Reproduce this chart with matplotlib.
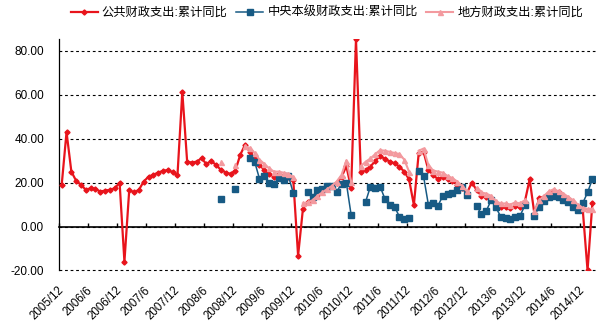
import numpy as np
import pandas as pd
import matplotlib
matplotlib.use('Agg')
import matplotlib.pyplot as plt
from matplotlib.transforms import ScaledTranslation

plt.rcParams['font.family'] = ['Liberation Sans', 'Noto Sans CJK SC']

# monthly categories, 2005/12 .. 2015/2
months = pd.period_range('2005-12', periods=111, freq='M')
month_labels = [f'{p.year}/{p.month}' for p in months]

series_names = ['公共财政支出:累计同比', '中央本级财政支出:累计同比', '地方财政支出:累计同比']

public_exp = [
    19.0, 43.0, 25.0, 20.8, 19.0, 16.7, 17.4, 17.1, 15.9, 16.4, 16.7, 17.4,
    20.0, -16.0, 16.7, 15.5, 16.7, 20.5, 22.7, 23.5, 24.6, 25.3, 25.8, 24.7,
    23.5, 61.3, 29.6, 29.1, 29.6, 31.1, 28.4, 29.9, 28.0, 25.8, 24.6, 24.0,
    25.5, 32.6, 37.2, 34.0, 31.0, 28.0, 25.8, 24.0, 22.7, 24.0, 23.0, 22.7,
    21.2, -13.3, 8.0, 11.3, 12.5, 14.5, 16.0, 17.0, 18.5, 20.0, 22.5, 27.5,
    17.5, 85.3, 24.7, 25.8, 27.3, 29.9, 32.2, 30.7, 29.6, 28.8, 27.3, 25.0,
    21.5, 9.8, 33.4, 34.1, 25.8, 23.5, 21.5, 22.7, 21.5, 20.9, 19.0, 17.4,
    15.2, 20.0, 16.7, 13.9, 13.6, 12.4, 9.8, 8.8, 8.8, 8.3, 9.3, 8.8,
    11.3, 21.5, 5.5, 12.9, 13.6, 15.2, 16.4, 15.5, 14.0, 12.4, 11.0, 8.8,
    7.9, -20.0, 10.6,
]

central_exp = [None] * 33 + [
    12.6, None, None, 17.1, None, None,
    31.4, 29.5, 21.7, 23.2, 20.0, 19.4, 22.0, 21.2, 23.0, 15.2,
    None, None,
    15.5, 13.6, 16.7, 17.1, 18.6, 18.6, 15.9, 19.4, 19.9, 5.2,
    None, None,
    11.3, 18.2, 17.7, 18.2, 12.6, 10.0, 9.0, 4.5, 3.3, 3.8,
    None,
    25.5, 23.0, 10.0, 10.8, 9.5, 14.0, 14.6, 15.2, 16.8, 17.8, 14.5,
    None,
    9.5, 5.5, 7.0, 12.0, 8.7, 4.5, 3.8, 3.2, 4.2, 4.8, 9.6,
    None,
    5.0, 9.0, 11.5, 13.6, 14.0, 13.3, 12.0, 11.3, 8.8, 7.3, 10.6, 15.5, 21.5,
]

local_exp = [None] * 33 + [
    29.6, None, None, 28.2, None,
    36.5, 35.8, 33.5, 30.5, 28.5, 26.5, 25.0, 25.0, 24.5, 24.0, 22.5,
    None,
    10.5, 11.0, 12.0, 14.0, 15.5, 17.0, 18.5, 20.5, 23.5, 30.0, 20.5,
    None,
    27.5, 29.5, 31.0, 33.0, 34.8, 34.5, 34.0, 33.5, 33.0, 30.5, 25.0,
    None,
    34.5, 35.5, 28.0, 25.5, 25.0, 24.5, 23.0, 22.0, 20.5, 18.5, 16.0,
    None,
    17.5, 15.5, 15.0, 14.0, 11.5, 10.5, 10.5, 10.0, 11.0, 10.5, 12.0,
    None,
    7.0, 12.0, 14.0, 16.0, 17.0, 16.0, 15.0, 13.5, 12.0, 10.0, 8.5, 8.0, 8.0,
]

y_ticks = [-20, 0, 20, 40, 60, 80]

x = np.arange(len(months))
red = np.array(public_exp, dtype=float)
blue = np.array(central_exp, dtype=float)
pink = np.array(local_exp, dtype=float)

fig = plt.figure(figsize=(6.02, 3.32), dpi=100)
ax = fig.add_axes([0.0985, 0.1855, 0.8895, 0.6976])

ax.plot(x, red, color='#e8141c', lw=1.6, marker='D', ms=2.6, label=series_names[0], zorder=3)
ax.plot(x, blue, color='#175a84', lw=1.1, marker='s', ms=4, label=series_names[1], zorder=4)
ax.plot(x, pink, color='#f39a9f', lw=1.5, marker='^', ms=3.6, label=series_names[2], zorder=5)

ax.set_xlim(-0.5, len(months) - 0.5)
ax.set_ylim(-20, 85.5)
ax.set_yticks(y_ticks)
ax.set_yticklabels([f'{v:.2f}' for v in y_ticks])
ax.tick_params(axis='y', length=0, pad=11, labelsize=8.5)
ax.yaxis.grid(True, color='black', lw=0.8, linestyle=(0, (2.5, 2.5)))
for gl in ax.get_ygridlines():
    gl.set_clip_on(False)

for side in ['top', 'right']:
    ax.spines[side].set_visible(False)
ax.spines['left'].set_linewidth(0.9)
ax.spines['bottom'].set_position(('data', 0))
ax.spines['bottom'].set_linewidth(1.2)
ax.spines['bottom'].set_zorder(2)

# category axis line at zero with ticks between every 6 months
ax.set_xticks(np.arange(-0.5, len(months), 6))
ax.tick_params(axis='x', direction='in', length=3, width=1, labelbottom=False)

# labels sit below the plot area
sec = ax.secondary_xaxis(0)
sec.set_xticks(x[::6], labels=month_labels[::6])
sec.spines['bottom'].set_visible(False)
sec.tick_params(length=0, pad=10, labelsize=8.3)
shift = ScaledTranslation(-4 / 100, 0, fig.dpi_scale_trans)
for lab in sec.get_xticklabels():
    lab.set_rotation(45)
    lab.set_ha('right')
    lab.set_rotation_mode('anchor')
    lab.set_transform(lab.get_transform() + shift)

ax.legend(loc='center', bbox_to_anchor=(0.5, 1 + 26 / 231.6), ncol=3, frameon=False,
          fontsize=8.8, handlelength=2.2, handletextpad=0.35, columnspacing=0.7,
          borderaxespad=0)

fig.savefig('out.png', dpi=100)
